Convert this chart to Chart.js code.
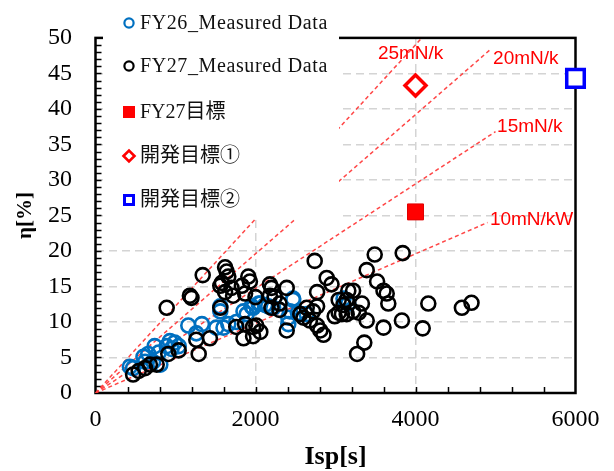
<!DOCTYPE html>
<html>
<head>
<meta charset="utf-8">
<script src="https://cdn.jsdelivr.net/npm/chart.js@4.4.1/dist/chart.umd.min.js"></script>
<style>
html,body{margin:0;padding:0;background:#fff;}
canvas{display:block;}
</style>
</head>
<body>
<canvas id="c" width="614" height="471"></canvas>
<script>
// ---- data ----
const xTicks = [0, 2000, 4000, 6000];
const yTicks = [0, 5, 10, 15, 20, 25, 30, 35, 40, 45, 50];

const fy26Isp = [430,470,600,620,660,720,740,790,810,890,930,950,990,1040,1160,1260,1330,1510,1600,1660,1760,1560,1560,1850,1890,1950,1970,2040,2060,2120,2160,2220,2240,2410,2410,2430,2470,2470,2530,2560,2640,3100,3160];
const fy26Eta = [3.7,3.5,5.1,4.4,5.5,4.4,6.6,5.7,4.0,6.6,7.3,6.2,7.1,6.6,9.5,8.4,9.7,9.2,9.2,9.7,10.0,12.2,11.5,11.5,11.1,12.2,12.0,12.6,12.6,12.4,12.2,12.0,13.5,9.7,10.6,11.5,13.1,13.3,11.3,11.1,11.1,13.3,12.6];

const fy27Isp = [470,540,620,680,765,910,1040,1260,1290,1430,890,1180,1200,1340,1620,1640,1660,1580,1560,1620,1700,1720,1910,1930,1830,1870,2000,1560,2740,2180,2200,2390,2180,2240,2300,2300,2200,2890,2950,2770,2640,2720,2770,2600,2680,2770,2810,2850,2560,2390,2010,2060,1970,1970,1870,1850,1760,3490,3840,3390,3520,3600,3640,3660,3160,3220,3040,3140,3100,3330,2990,3040,3080,3140,3220,3290,3390,3600,3830,4090,4160,4580,4700,3360,3270];
const fy27Eta = [2.6,3.1,3.5,4.0,4.0,5.5,6.0,7.5,5.5,7.7,12.0,13.7,13.4,16.6,17.7,17.1,16.4,15.5,15.1,14.2,14.8,13.7,16.4,15.7,15.1,14.0,13.5,12.0,18.6,15.3,14.8,14.8,13.7,13.5,12.6,11.7,12.0,16.2,15.3,14.2,12.0,11.5,12.2,10.6,10.2,9.5,8.8,8.2,11.1,8.8,9.5,8.6,9.3,8.0,9.7,7.7,9.3,19.5,19.7,17.3,15.7,14.4,14.0,12.6,14.4,14.4,13.1,13.1,12.4,12.6,10.8,11.3,11.1,11.1,11.5,11.3,10.2,9.2,10.2,9.1,12.6,12.0,12.7,7.1,5.5];

const targetFY27 = [{x: 4000, y: 25.5}];
const target1 = [{x: 4000, y: 43.3}];
const target2 = [{x: 6000, y: 44.3}];

// thrust-to-power reference lines (from origin to end point)
const lineNames = ['10mN/kW', '15mN/k', '20mN/k', '25mN/k'];
const lineEndIsp = [4900, 5000, 4950, 4080];
const lineEndEta = [24.0, 36.8, 48.5, 50.0];
const labelIsp = [4930, 5020, 4970, 3530];
const labelEta = [24.4, 37.5, 47.1, 47.7];

const legendNames = ['FY26_Measured Data', 'FY27_Measured Data', 'FY27目標', '開発目標①', '開発目標②'];

// ---- build ----
const toPts = (xs, ys) => xs.map((v, i) => ({x: v, y: ys[i]}));
const BLUE = '#0070C0';
const RED = '#ff0000';
const LINE_RED = 'rgba(255,60,60,0.95)';

const datasets = [];
lineNames.forEach((n, i) => {
  datasets.push({
    label: n, data: [{x: 0, y: 0}, {x: lineEndIsp[i], y: lineEndEta[i]}],
    showLine: true, pointRadius: 0, borderColor: LINE_RED, borderWidth: 1.5,
    borderDash: [4, 3], fill: false, order: 10
  });
});
datasets.push({label: legendNames[0], data: toPts(fy26Isp, fy26Eta), pointRadius: 7, pointBorderWidth: 2.6,
  borderColor: BLUE, backgroundColor: 'rgba(0,0,0,0)', order: 5});
datasets.push({label: legendNames[1], data: toPts(fy27Isp, fy27Eta), pointRadius: 7, pointBorderWidth: 2.6,
  borderColor: '#000', backgroundColor: 'rgba(0,0,0,0)', order: 4});
datasets.push({label: legendNames[2], data: targetFY27, pointStyle: 'rect', pointRadius: 11.3, pointBorderWidth: 1,
  borderColor: '#e00000', backgroundColor: RED, order: 3});
datasets.push({label: legendNames[3], data: target1, pointStyle: 'rectRot', pointRadius: 10.5, pointBorderWidth: 3.5,
  borderColor: RED, backgroundColor: '#fff', order: 2});
datasets.push({label: legendNames[4], data: target2, pointStyle: 'rect', pointRadius: 12.4, pointBorderWidth: 3.5,
  borderColor: '#0000ff', backgroundColor: '#fff', order: 1, clip: false});

const framePlugin = {
  id: 'frame',
  beforeDatasetsDraw(chart) {
    const {ctx, chartArea: a, scales: {x, y}} = chart;
    ctx.save();
    ctx.strokeStyle = '#000';
    ctx.lineWidth = 2.5;
    ctx.strokeRect(a.left, a.top, a.right - a.left, a.bottom - a.top);
    ctx.lineWidth = 1.5;
    ctx.beginPath();
    for (let v = 1; v < 50; v++) {
      const py = Math.round(y.getPixelForValue(v)) + 0.5;
      ctx.moveTo(a.left, py); ctx.lineTo(a.left + 6, py);
    }
    for (let v = 400; v < 6000; v += 400) {
      const px = Math.round(x.getPixelForValue(v)) + 0.5;
      ctx.moveTo(px, a.bottom); ctx.lineTo(px, a.bottom - 6);
    }
    ctx.stroke();
    ctx.restore();
  },
  afterDatasetsDraw(chart) {
    const {ctx, chartArea: a, scales: {x, y}} = chart;
    ctx.save();
    // line labels
    ctx.font = '19px "Liberation Sans", Arial, sans-serif';
    ctx.fillStyle = RED;
    ctx.textAlign = 'left';
    ctx.textBaseline = 'middle';
    lineNames.forEach((n, i) => {
      ctx.fillText(n, x.getPixelForValue(labelIsp[i]), y.getPixelForValue(labelEta[i]));
    });
    // legend box (white, covers lines & grid)
    const bx = 103, by = a.top - 4, bw = 236, bh = 219 - by;
    ctx.fillStyle = '#fff';
    ctx.fillRect(bx, by, bw, bh);
    const mx = 129, tx = 140;
    const rows = [23, 66, 112, 156, 200];
    // markers
    ctx.lineWidth = 2.2;
    ctx.strokeStyle = BLUE;
    ctx.beginPath(); ctx.arc(mx, rows[0], 4.6, 0, Math.PI * 2); ctx.stroke();
    ctx.strokeStyle = '#000';
    ctx.beginPath(); ctx.arc(mx, rows[1], 4.6, 0, Math.PI * 2); ctx.stroke();
    ctx.fillStyle = RED;
    ctx.fillRect(mx - 6, rows[2] - 6, 12, 12);
    ctx.strokeStyle = RED; ctx.lineWidth = 2.6;
    ctx.beginPath();
    ctx.moveTo(mx - 5.5, rows[3]); ctx.lineTo(mx, rows[3] - 5.5); ctx.lineTo(mx + 5.5, rows[3]); ctx.lineTo(mx, rows[3] + 5.5); ctx.closePath();
    ctx.stroke();
    ctx.strokeStyle = '#0000ff'; ctx.lineWidth = 3;
    ctx.strokeRect(mx - 4.5, rows[4] - 4.5, 9, 9);
    // texts
    ctx.fillStyle = '#111';
    ctx.font = '20px "Liberation Serif", "Noto Sans CJK JP", serif';
    ctx.textBaseline = 'middle';
    legendNames.forEach((n, i) => {
      ctx.letterSpacing = i < 2 ? '0.6px' : '0px';
      ctx.fillText(n, tx, rows[i] + 1);
    });
    ctx.restore();
  }
};

const gridColor = (c) => {
  const v = c.tick && c.tick.value;
  return (v === 0 || v === 50 || v === 6000) ? 'rgba(0,0,0,0)' : '#d4d4d4';
};

new Chart(document.getElementById('c'), {
  type: 'scatter',
  data: {datasets},
  options: {
    responsive: false,
    animation: false,
    events: [],
    layout: {padding: {left: 0, top: 18, right: 38.5, bottom: 0}},
    plugins: {legend: {display: false}, tooltip: {enabled: false}},
    scales: {
      x: {
        type: 'linear', min: 0, max: 6000,
        afterBuildTicks: (s) => { s.ticks = xTicks.map(v => ({value: v})); },
        afterFit: (s) => { s.height = 78; },
        ticks: {color: '#000', padding: 12, callback: (v) => String(v), font: {family: '"Liberation Serif", serif', size: 24}, maxRotation: 0, autoSkip: false},
        grid: {color: gridColor, lineWidth: 1.5, drawTicks: false},
        border: {display: false, dash: [8, 5]},
        title: {display: true, text: 'Isp[s]', color: '#000', font: {family: '"Liberation Serif", serif', size: 26, weight: 'bold', lineHeight: 1}, padding: {top: 0, bottom: 1}}
      },
      y: {
        type: 'linear', min: 0, max: 50,
        afterBuildTicks: (s) => { s.ticks = yTicks.map(v => ({value: v})); },
        afterFit: (s) => { s.width = 95.5; },
        ticks: {color: '#000', padding: 23.5, callback: (v) => String(v), font: {family: '"Liberation Serif", serif', size: 24}, autoSkip: false},
        grid: {color: gridColor, lineWidth: 1.5, drawTicks: false},
        border: {display: false, dash: [8, 5]},
        title: {display: true, text: 'η[%]', color: '#000', font: {family: '"Liberation Serif", serif', size: 21, weight: 'bold', lineHeight: 1}, padding: {top: 15, bottom: 0}}
      }
    }
  },
  plugins: [framePlugin]
});
</script>
</body>
</html>
